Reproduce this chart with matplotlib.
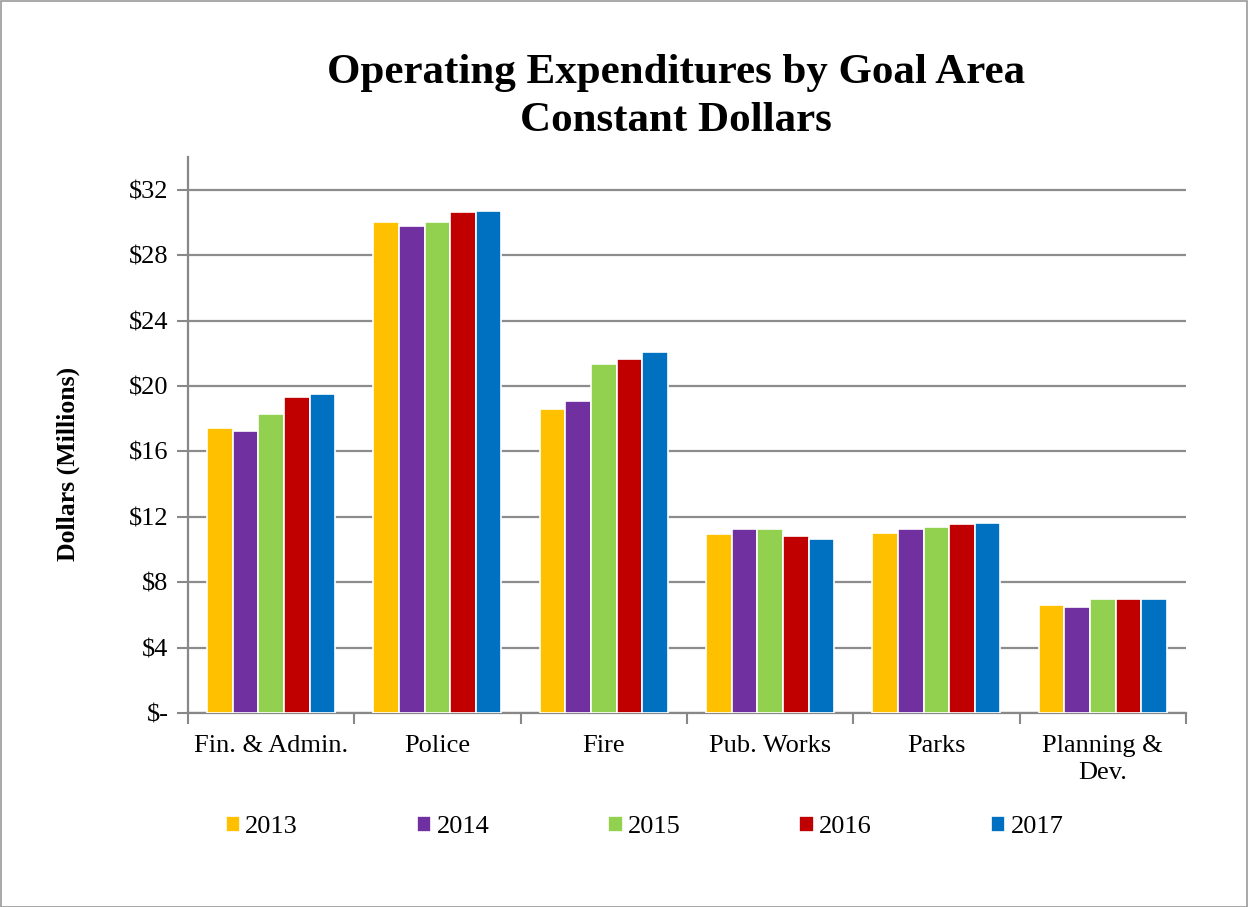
import numpy as np
import matplotlib
matplotlib.use("Agg")
import matplotlib.pyplot as plt
from matplotlib.patches import Rectangle

# Values (millions of constant dollars)
categories = ["Fin. & Admin.", "Police", "Fire", "Pub. Works", "Parks", "Planning &\nDev."]
years = ["2013", "2014", "2015", "2016", "2017"]
colors = ["#FFC000", "#7030A0", "#92D050", "#C00000", "#0070C0"]

vals_2013 = [17.45, 30.00, 18.60, 10.95, 11.02, 6.62]
vals_2014 = [17.25, 29.80, 19.07, 11.26, 11.26, 6.50]
vals_2015 = [18.30, 30.00, 21.36, 11.26, 11.40, 6.96]
vals_2016 = [19.33, 30.66, 21.67, 10.81, 11.54, 6.96]
vals_2017 = [19.52, 30.72, 22.05, 10.67, 11.60, 6.96]
series = [vals_2013, vals_2014, vals_2015, vals_2016, vals_2017]

y_ticks = [0, 4, 8, 12, 16, 20, 24, 28, 32]
y_tick_labels = ["$-", "$4", "$8", "$12", "$16", "$20", "$24", "$28", "$32"]

plt.rcParams['font.family'] = ['Liberation Serif', 'DejaVu Serif']

fig = plt.figure(figsize=(12.49, 9.07), dpi=100)
ax = fig.add_axes([0.1505, 0.2139, 0.799, 0.613])

x = np.arange(len(categories))
bar_w = 0.154
for i, (vals, col, yr) in enumerate(zip(series, colors, years)):
    offs = (i - 2) * bar_w
    ax.bar(x + offs, vals, width=bar_w, color=col, edgecolor="white",
           linewidth=1.2, label=yr, zorder=3)

ax.set_xlim(-0.5, len(categories) - 0.5)
ax.set_ylim(0, 34)
ax.set_yticks(y_ticks)
ax.set_yticklabels(y_tick_labels, fontsize=19)
ax.set_xticks(x)
ax.set_xticklabels(categories, fontsize=19, va="top", linespacing=1.3)
ax.tick_params(axis="x", length=0, pad=16)
ax.tick_params(axis="y", length=8, width=1.5, color="#888888", pad=6)

# category boundary ticks on the x axis
ax.set_xticks(np.arange(-0.5, len(categories)), minor=True)
ax.tick_params(axis="x", which="minor", length=8, width=1.5, color="#888888")

ax.yaxis.grid(True, color="#8c8c8c", linewidth=1.6, zorder=0)
ax.set_axisbelow(True)
for s in ["top", "right"]:
    ax.spines[s].set_visible(False)
for s in ["left", "bottom"]:
    ax.spines[s].set_color("#888888")
    ax.spines[s].set_linewidth(1.6)

ax.set_ylabel("Dollars (Millions)", fontsize=18.5, fontweight="bold")
ax.yaxis.set_label_coords(-0.108, 0.448)

fig.text(0.541, 0.893, "Operating Expenditures by Goal Area\nConstant Dollars",
         ha="center", va="center", fontsize=31, fontweight="bold", linespacing=1.35)

fig.legend(loc="center", bbox_to_anchor=(0.516, 0.088), ncol=5, frameon=False,
           fontsize=19, handlelength=0.55, handleheight=0.55, handletextpad=0.2,
           columnspacing=4.5)

# thin grey border round the figure
fig.patches.append(Rectangle((0.0005, 0.0005), 0.998, 0.998, transform=fig.transFigure,
                             fill=False, edgecolor="#999999", linewidth=1.2))

fig.savefig("out.png", dpi=100)
